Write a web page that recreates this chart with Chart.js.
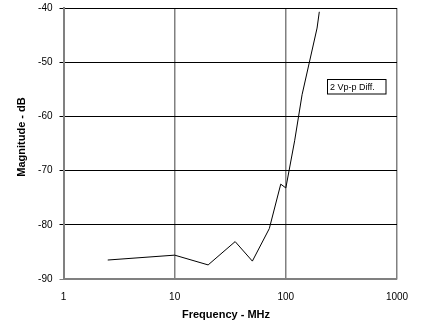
<!DOCTYPE html>
<html>
<head>
<meta charset="utf-8">
<script src="https://cdn.jsdelivr.net/npm/chart.js@4.4.1/dist/chart.umd.min.js"></script>
<style>
  html, body { margin: 0; padding: 0; background: #fff; }
  #wrap { width: 424px; height: 332px; }
</style>
</head>
<body>
<div id="wrap"><canvas id="magChart" width="424" height="332"></canvas></div>
<script>
const freqMHz = [2.5, 10, 20, 35, 50, 71, 90, 100, 120, 140, 191, 200];
const magDb = [-86.5, -85.6, -87.4, -83.1, -86.7, -80.7, -72.5, -73.2, -64.5, -56.0, -43.7, -40.7];
const xTicks = [1, 10, 100, 1000];
const yTicks = [-90, -80, -70, -60, -50, -40];
const noteText = '2 Vp-p Diff.';

const GRAY = '#808080';
const FONT = "'Liberation Sans', Arial, sans-serif";

// axis titles and the little boxed note inside the plot
const labelsPlugin = {
  id: 'labels',
  afterDraw(chart) {
    const { ctx } = chart;
    ctx.save();
    ctx.fillStyle = '#000';
    ctx.font = 'bold 11px ' + FONT;
    ctx.textAlign = 'center';
    ctx.textBaseline = 'middle';
    ctx.fillText('Frequency - MHz', 226, 315);
    ctx.translate(22, 137);
    ctx.rotate(-Math.PI / 2);
    ctx.fillText('Magnitude - dB', 0, 0);
    ctx.restore();

    ctx.save();
    ctx.fillStyle = '#fff';
    ctx.strokeStyle = '#000';
    ctx.lineWidth = 1;
    ctx.fillRect(327, 79.5, 59, 15);
    ctx.strokeRect(327.5, 79.5, 58.5, 14.5);
    ctx.fillStyle = '#000';
    ctx.font = '9px ' + FONT;
    ctx.textBaseline = 'middle';
    ctx.fillText(noteText, 330, 87.5);
    ctx.restore();
  }
};

new Chart(document.getElementById('magChart'), {
  type: 'line',
  data: {
    datasets: [{
      data: freqMHz.map((f, i) => ({ x: f, y: magDb[i] })),
      borderColor: '#000',
      borderWidth: 1,
      pointRadius: 0,
      tension: 0,
      fill: false
    }]
  },
  options: {
    responsive: false,
    animation: false,
    layout: { padding: { left: 0, right: 27, top: 8, bottom: 0 } },
    plugins: { legend: { display: false }, tooltip: { enabled: false } },
    scales: {
      x: {
        type: 'logarithmic',
        min: 1, max: 1000,
        afterBuildTicks: s => { s.ticks = xTicks.map(v => ({ value: v })); },
        afterFit: s => { s.height = 53; s.paddingLeft = 0; s.paddingRight = 0; },
        ticks: {
          color: '#000', padding: 12, maxRotation: 0, autoSkip: false,
          font: { family: FONT, size: 10 },
          callback: v => String(v)
        },
        grid: { color: GRAY, lineWidth: 1.5, drawTicks: false },
        border: { color: GRAY, width: 1.5 }
      },
      y: {
        min: -90, max: -40,
        afterBuildTicks: s => { s.ticks = yTicks.map(v => ({ value: v })); },
        afterFit: s => { s.width = 63.5; s.paddingTop = 0; s.paddingBottom = 0; },
        ticks: {
          color: '#000', padding: 7,
          font: { family: FONT, size: 10 }
        },
        grid: {
          color: c => (c.tick && c.tick.value === -90 ? GRAY : '#000'),
          lineWidth: 1,
          tickLength: 4
        },
        border: { color: GRAY, width: 2 }
      }
    }
  },
  plugins: [labelsPlugin]
});
</script>
</body>
</html>
